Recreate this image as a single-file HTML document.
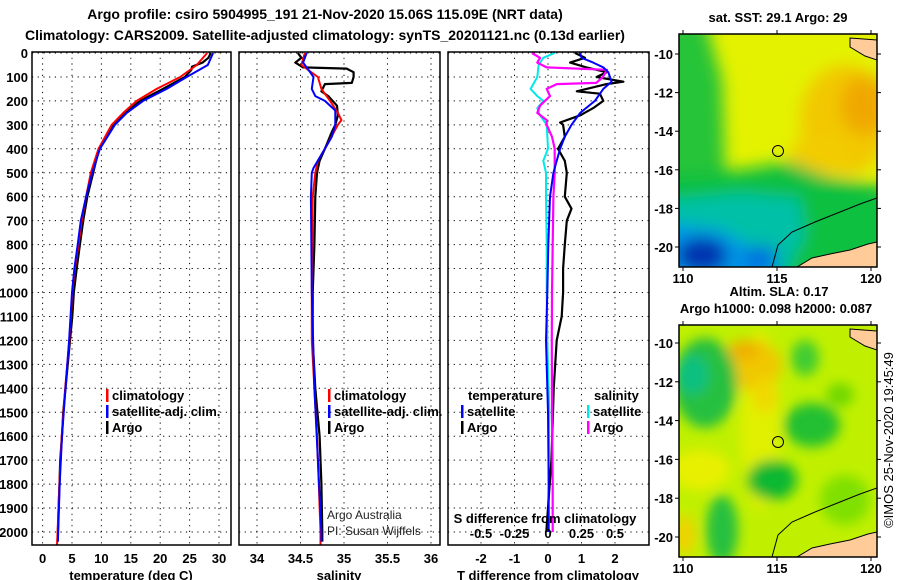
<!DOCTYPE html>
<html><head><meta charset="utf-8"><style>
html,body{margin:0;padding:0;background:#fff;}
svg{display:block;font-family:"Liberation Sans",sans-serif;}
.b{font-weight:bold;font-size:13px;fill:#000;}
.n{font-weight:normal;font-size:12px;fill:#222;}
.t{font-weight:bold;font-size:14px;fill:#000;}
</style></head><body>
<svg id="chart" width="900" height="580" viewBox="0 0 900 580">
<defs>
<clipPath id="cm1"><rect x="679" y="34" width="198" height="233"/></clipPath>
<clipPath id="cm2"><rect x="679" y="325" width="198" height="232"/></clipPath>
<filter id="bl" x="-20%" y="-20%" width="140%" height="140%"><feGaussianBlur stdDeviation="8"/></filter>
<filter id="bl2" x="-20%" y="-20%" width="140%" height="140%"><feGaussianBlur stdDeviation="6"/></filter>
</defs>
<text class="t" x="325" y="19" text-anchor="middle">Argo profile: csiro 5904995_191 21-Nov-2020 15.06S 115.09E (NRT data)</text>
<text class="t" x="325" y="40" text-anchor="middle">Climatology: CARS2009. Satellite-adjusted climatology: synTS_20201121.nc (0.13d earlier)</text>
<g id="plots"></g>

<!-- Map 1: SST -->
<g>
<text class="b" x="778" y="22" text-anchor="middle">sat. SST: 29.1 Argo: 29</text>
<g clip-path="url(#cm1)">
<rect x="679" y="34" width="198" height="233" fill="#e4f200"/>
<g filter="url(#bl)">
<ellipse cx="845" cy="120" rx="45" ry="55" fill="#f2c800"/>
<ellipse cx="865" cy="105" rx="25" ry="30" fill="#f0a800"/>
<ellipse cx="820" cy="155" rx="30" ry="20" fill="#f2cc00"/>
<polygon points="660,20 705,20 722,80 725,170 660,210" fill="#28c438"/>
<polygon points="660,175 740,170 790,162 830,178 895,188 895,285 660,285" fill="#10c040"/>
<polygon points="660,200 740,193 800,198 805,235 780,285 660,285" fill="#00c0a8"/>
<polygon points="660,222 720,230 765,255 785,285 660,285" fill="#0098e8"/>
<ellipse cx="702" cy="255" rx="26" ry="18" fill="#0030b0"/>
<ellipse cx="760" cy="258" rx="18" ry="12" fill="#0070e0"/>
</g>
<polygon points="850,38 877,40 877,60 865,56 850,47" fill="#ffcc99" stroke="#000" stroke-width="1"/>
<polygon points="797,267 812,258 830,254 850,250 868,244 877,242 877,267" fill="#ffcc99" stroke="#000" stroke-width="1"/>
<polyline points="772,267 778,245 792,232 815,222 840,212 860,204 877,198" fill="none" stroke="#000" stroke-width="1"/>
</g>
<rect x="679" y="34" width="198" height="233" fill="none" stroke="#000" stroke-width="1.5"/>
<circle cx="778" cy="151" r="5.5" fill="none" stroke="#000" stroke-width="1"/>
</g>

<!-- Map 2: SLA -->
<g>
<text class="b" x="779" y="296" text-anchor="middle">Altim. SLA: 0.17</text>
<text class="b" x="776" y="313" text-anchor="middle">Argo h1000: 0.098 h2000: 0.087</text>
<g clip-path="url(#cm2)">
<rect x="679" y="325" width="198" height="232" fill="#c0f000"/>
<g filter="url(#bl2)">
<ellipse cx="760" cy="420" rx="20" ry="90" fill="#e0f000"/>
<ellipse cx="750" cy="365" rx="32" ry="25" fill="#f0c800"/>
<ellipse cx="745" cy="350" rx="15" ry="10" fill="#f0b000"/>
<ellipse cx="765" cy="395" rx="12" ry="18" fill="#f0d800"/>
<ellipse cx="705" cy="383" rx="32" ry="45" fill="#28c040"/>
<ellipse cx="693" cy="375" rx="16" ry="20" fill="#10c080"/>
<ellipse cx="812" cy="425" rx="28" ry="22" fill="#20c030"/>
<ellipse cx="805" cy="358" rx="14" ry="18" fill="#40cc30"/>
<ellipse cx="772" cy="480" rx="25" ry="20" fill="#10b830"/>
<ellipse cx="722" cy="530" rx="16" ry="35" fill="#28c040"/>
<ellipse cx="840" cy="395" rx="14" ry="12" fill="#70d800"/>
<ellipse cx="700" cy="470" rx="30" ry="20" fill="#e8f000"/>
<ellipse cx="845" cy="500" rx="25" ry="25" fill="#80e000"/>
<ellipse cx="685" cy="535" rx="10" ry="20" fill="#f0d000"/>
</g>
<polygon points="850,329 877,331 877,350 865,346 850,337" fill="#ffcc99" stroke="#000" stroke-width="1"/>
<polygon points="797,557 812,548 830,544 850,540 868,534 877,532 877,557" fill="#ffcc99" stroke="#000" stroke-width="1"/>
<polyline points="772,557 778,535 792,522 815,512 840,502 860,494 877,488" fill="none" stroke="#000" stroke-width="1"/>
</g>
<rect x="679" y="325" width="198" height="232" fill="none" stroke="#000" stroke-width="1.5"/>
<circle cx="778" cy="442" r="5.5" fill="none" stroke="#000" stroke-width="1"/>
</g>
<text x="893" y="440" font-size="13" text-anchor="middle" transform="rotate(-90 893 440)">©IMOS 25-Nov-2020 19:45:49</text>
</svg>
<script>
// ---- data ----
const depthTicks=[0,100,200,300,400,500,600,700,800,900,1000,1100,1200,1300,1400,1500,1600,1700,1800,1900,2000];
const tempTicks=[0,5,10,15,20,25,30];
const salTicks=[34,34.5,35,35.5,36];
const salTickLabels=["34","34.5","35","35.5","36"];
const tdiffTicks=[-2,-1,0,1,2];
const sdiffTicks=[-0.5,-0.25,0,0.25,0.5];
const sdiffTickLabels=["-0.5","-0.25","0","0.25","0.5"];

const tArgoDepth=[0,20,40,57,70,100,150,200,250,300,400,500,600,700,800,900,1000,1100,1200,1400,1500,1600,1700,1800,1900,2000,2040];
const tArgo=[28.6,28.2,27.2,25.4,25.3,24.2,20.5,16.6,14.0,12.0,9.6,8.6,7.6,6.9,6.35,5.8,5.3,5.05,4.66,3.9,3.5,3.3,3.0,2.87,2.72,2.6,2.55];
const tClimDepth=[0,50,100,150,200,250,300,400,500,600,700,800,900,1000,1200,1400,1600,1800,2000,2055];
const tClim=[28.0,26.2,23.4,19.4,16.0,13.7,11.75,9.5,8.2,7.4,6.65,6.1,5.5,5.05,4.55,3.85,3.25,2.85,2.55,2.45];
const tSatDepth=[0,50,100,150,200,250,300,400,500,600,700,800,900,1000,1200,1400,1600,1800,2000,2040];
const tSat=[29.0,28.1,24.5,21.1,17.1,14.3,12.3,9.75,8.45,7.4,6.5,5.97,5.4,5.0,4.5,3.9,3.3,2.9,2.65,2.6];

const sArgoDepth=[0,20,40,60,65,80,100,125,130,160,180,220,260,300,330,400,450,500,600,800,1000,1200,1400,1600,1800,2000,2040];
const sArgo=[34.47,34.51,34.44,34.53,35.03,35.11,35.11,35.09,34.78,34.74,34.82,34.92,34.93,34.90,34.86,34.78,34.72,34.69,34.67,34.66,34.64,34.64,34.67,34.72,34.74,34.75,34.75];
const sClimDepth=[0,50,100,150,200,250,280,300,400,450,500,600,1000,1200,1400,1600,1800,2000,2055];
const sClim=[34.55,34.51,34.70,34.74,34.84,34.93,34.97,34.93,34.78,34.70,34.67,34.64,34.63,34.63,34.66,34.69,34.71,34.73,34.73];
const sSatDepth=[0,40,80,100,150,180,200,240,300,350,400,480,500,600,1000,1400,1700,2000,2040];
const sSat=[34.57,34.53,34.61,34.65,34.63,34.67,34.78,34.90,34.90,34.86,34.78,34.65,34.63,34.62,34.63,34.66,34.70,34.74,34.74];

const dtArgoDepth=[0,20,40,60,80,100,120,130,160,170,200,230,260,290,300,350,400,450,500,600,650,700,800,900,1000,1100,1200,1400,1500,1700,1900,2000];
const dtArgo=[0.81,1.1,0.66,1.15,1.75,1.45,2.25,1.75,0.86,1.55,1.65,1.35,0.96,0.36,0.45,0.5,0.3,0.5,0.56,0.5,0.7,0.56,0.5,0.45,0.45,0.41,0.26,0.17,0.15,0.1,0.0,-0.05];
const dtSatDepth=[0,20,40,60,80,120,150,200,250,300,350,400,450,500,600,800,1000,1200,1500,1800,2000];
const dtSat=[0.96,1.0,1.35,1.65,1.8,1.9,1.65,1.4,0.96,0.7,0.5,0.36,0.26,0.16,0.06,0.01,-0.02,-0.06,0.0,0.02,0.02];
const dsArgoDepth=[0,20,40,60,70,100,125,130,150,180,220,250,280,300,350,400,500,600,800,1000,1200,1500,1800,2000];
const dsArgo=[-0.12,-0.06,-0.08,-0.01,0.44,0.41,0.36,0.065,-0.01,0.015,-0.06,-0.08,-0.01,-0.01,0.03,0.05,0.05,0.04,0.035,0.03,0.028,0.03,0.035,0.035];
const dsSatDepth=[0,20,50,100,150,180,200,230,260,300,400,450,500,600,800,1000,1200,1500,2000];
const dsSat=[0.05,-0.035,-0.07,-0.08,-0.13,-0.08,-0.035,-0.08,-0.06,-0.01,0.0,-0.035,-0.015,-0.015,-0.01,-0.01,-0.005,0.01,0.0];

// ---- scales ----
const yD=d=>53+d*0.2395;
const xT=t=>42.6+t*5.88;
const xS=s=>257+(s-34)*87;
const xDT=t=>548+t*33.5;
const xDS=s=>548+s*134;
const NS="http://www.w3.org/2000/svg";
const root=document.getElementById('plots');
function el(tag,attrs,parent){const e=document.createElementNS(NS,tag);for(const k in attrs)e.setAttribute(k,attrs[k]);(parent||root).appendChild(e);return e;}
function txt(x,y,s,cls,anchor,parent){const e=el('text',{x:x,y:y,'class':cls||'b','text-anchor':anchor||'start'},parent);e.textContent=s;return e;}

const panels=[{x0:32,x1:231,name:'temperature-panel',ticks:tempTicks,sc:xT},{x0:239,x1:440,name:'salinity-panel',ticks:salTicks,sc:xS},{x0:448,x1:649,name:'difference-panel',ticks:tdiffTicks,sc:xDT}];
const T=52,B=545;
panels.forEach(p=>{
  const g=el('g',{});
  
  
  depthTicks.forEach(d=>{const l=el('line',{x1:p.x0,x2:p.x1,y1:yD(d),y2:yD(d),stroke:'#000','stroke-width':1,'stroke-dasharray':'1.2,4.5'},g);
    
    });
  p.ticks.forEach(v=>{const l=el('line',{x1:p.sc(v),x2:p.sc(v),y1:T,y2:B,stroke:'#000','stroke-width':1,'stroke-dasharray':'1.2,4.5'},g);
    
    });
  p.g=g;
});
depthTicks.forEach(d=>{const t=txt(28,yD(d)+5,String(d),'b','end');
  
  });
tempTicks.forEach(v=>{const t=txt(xT(v),563,String(v),'b','middle');
  
  });
salTicks.forEach((v,i)=>{const t=txt(xS(v),563,salTickLabels[i],'b','middle');
  
  });
tdiffTicks.forEach(v=>{const t=txt(xDT(v),563,String(v),'b','middle');
  
  });
sdiffTicks.forEach((v,i)=>{const t=txt(xDS(v),538,sdiffTickLabels[i],'b','middle');
  
  });
let a=txt(131,580,'temperature (deg C)','b','middle');
a=txt(339,580,'salinity','b','middle');
a=txt(548,580,'T difference from climatology','b','middle');
a=txt(545,523,'S difference from climatology','b','middle');

function series(depths,vals,sc,color,w,name,g){
  const pts=depths.map((d,i)=>sc(vals[i]).toFixed(1)+','+yD(d).toFixed(1)).join(' ');
  const l=el('polyline',{points:pts,fill:'none',stroke:color,'stroke-width':w,'stroke-linejoin':'round'},g);
  
  
}
const g1=panels[0].g,g2=panels[1].g,g3=panels[2].g;
series(tArgoDepth,tArgo,xT,'#000',2.2,'temperature-argo-line',g1);
series(tClimDepth,tClim,xT,'#f00',2,'temperature-climatology-line',g1);
series(tSatDepth,tSat,xT,'#00f',2,'temperature-satellite-line',g1);
series(sArgoDepth,sArgo,xS,'#000',2.2,'salinity-argo-line',g2);
series(sClimDepth,sClim,xS,'#f00',2,'salinity-climatology-line',g2);
series(sSatDepth,sSat,xS,'#00f',2,'salinity-satellite-line',g2);
series(dsSatDepth,dsSat,xDS,'#00e8e8',2,'sdiff-satellite-line',g3);
series(dtArgoDepth,dtArgo,xDT,'#000',2.2,'tdiff-argo-line',g3);
series(dsArgoDepth,dsArgo,xDS,'#ff00ff',2.2,'sdiff-argo-line',g3);
series(dtSatDepth,dtSat,xDT,'#00f',2,'tdiff-satellite-line',g3);

panels.forEach(p=>{const r=el('rect',{x:p.x0,y:T,width:p.x1-p.x0,height:B-T,fill:'none',stroke:'#000','stroke-width':1.5});
  
  });

function legend(x,y,color,label){
  const g=el('g',{});
  
  
  el('rect',{x:x,y:y-11,width:2.5,height:13,fill:color},g);
  txt(x+6,y,label,'b','start',g);
}
legend(106,400,'#f00','climatology');legend(106,416,'#00f','satellite-adj. clim.');legend(106,432,'#000','Argo');
legend(328,400,'#f00','climatology');legend(328,416,'#00f','satellite-adj. clim.');legend(328,432,'#000','Argo');
a=txt(468,400,'temperature');
a=txt(594,400,'salinity');
legend(461,416,'#00f','satellite');legend(461,432,'#000','Argo');
legend(587,416,'#00e8e8','satellite');legend(587,432,'#ff00ff','Argo');
a=txt(327,519,'Argo Australia','n','start');
a=txt(327,535,'PI: Susan Wijffels','n','start');

const maps=[{x0:679,y0:34,y1:267,latY:l=>54+(-10-l)*19.3,name:'sst'},{x0:679,y0:325,y1:557,latY:l=>343+(-10-l)*19.4,name:'sla'}];
const lonX=l=>683+(l-110)*18.8;
const lats=[-10,-12,-14,-16,-18,-20];
const lons=[110,115,120];
maps.forEach(m=>{
  lats.forEach(l=>{const y=m.latY(l);
    el('line',{x1:m.x0-4,x2:m.x0,y1:y,y2:y,stroke:'#000'});
    const t=txt(m.x0-6,y+5,String(l),'b','end');
    
    
    el('line',{x1:877,x2:881,y1:y,y2:y,stroke:'#000'});
  });
  lons.forEach(l=>{const x=lonX(l);
    el('line',{x1:x,x2:x,y1:m.y1,y2:m.y1+4,stroke:'#000'});
    el('line',{x1:x,x2:x,y1:m.y0-4,y2:m.y0,stroke:'#000'});
    const t=txt(x,m.y1+16,String(l),'b','middle');
    
    
  });
});
</script>
</body></html>
